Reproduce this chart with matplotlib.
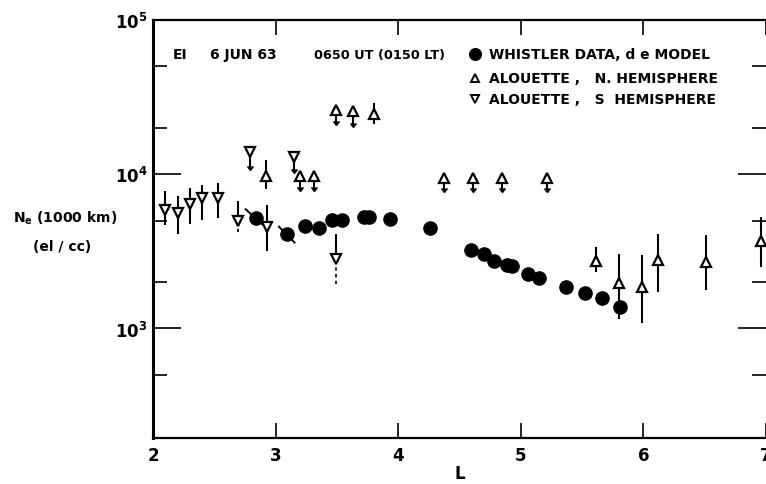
import numpy as np
import matplotlib
matplotlib.use('Agg')
import matplotlib.pyplot as plt
from matplotlib.ticker import LogLocator, NullFormatter, FixedLocator

plt.rcParams['font.family'] = ['DejaVu Sans']

# Whistler data, d e model (filled circles)
whistler_L = [2.84, 3.09, 3.24, 3.35, 3.46, 3.54, 3.72, 3.76, 3.93, 4.26,
              4.59, 4.70, 4.78, 4.89, 4.93, 5.06, 5.15, 5.37, 5.52, 5.66, 5.81]
whistler_ne = [5180, 4090, 4590, 4460, 5020, 5020, 5260, 5260, 5100, 4460,
               3210, 3020, 2720, 2570, 2530, 2250, 2110, 1850, 1690, 1570, 1370]
# short slope strokes drawn through the first two whistler points
slope_L = [(2.756, 2.894), (3.027, 3.154)]
slope_ne = [(5930, 4730), (4570, 3610)]

# Alouette, N. hemisphere, with error bars
alN_L = [2.92, 3.80, 5.61, 5.805, 5.99, 6.12, 6.507, 6.96]
alN_ne = [9700, 24600, 2750, 1970, 1870, 2790, 2690, 3670]
alN_hi = [12400, 28900, 3400, 3040, 3010, 4090, 4060, 5260]
alN_lo = [8030, 21200, 2310, 1150, 1080, 1730, 1780, 2490]

# Alouette, N. hemisphere, upper limits (arrow down)
alN_lim_L = [3.20, 3.31, 3.49, 3.63, 4.37, 4.61, 4.85, 5.21]
alN_lim_ne = [9700, 9700, 26200, 25600, 9460, 9460, 9460, 9460]
alN_lim_end = [7760, 7760, 20900, 20300, 7700, 7700, 7700, 7700]

# Alouette, S hemisphere, with error bars
alS_L = [2.095, 2.20, 2.30, 2.40, 2.53, 2.694, 2.93, 3.49]
alS_ne = [5900, 5610, 6410, 6980, 6980, 5000, 4530, 2820]
alS_hi = [7760, 7200, 8150, 8490, 8740, 6750, 6320, 4090]
alS_lo = [4670, 4080, 4730, 5020, 5180, 4200, 3200, 1940]
alS_dotted_below = [False, False, False, False, False, True, False, True]

# Alouette, S hemisphere, upper limits
alS_lim_L = [2.794, 3.149]
alS_lim_ne = [13900, 12900]
alS_lim_end = [10600, 10150]

W, H = 766, 485
fig = plt.figure(figsize=(W / 100, H / 100), dpi=100)
ax = fig.add_axes([153 / W, 1 - 439 / H, (766 - 153) / W, (439 - 21) / H])
ax.set_yscale('log')
ax.set_xlim(2, 7)
ax.set_ylim(195, 1e5)

k = 'black'
ms_tri = 6.5

# error bars
for L, hi, lo in zip(alN_L, alN_hi, alN_lo):
    ax.vlines(L, lo, hi, color=k, lw=1.5, zorder=2)
for L, y, hi, lo, dot in zip(alS_L, alS_ne, alS_hi, alS_lo, alS_dotted_below):
    if dot:
        ax.vlines(L, y, hi, color=k, lw=1.5, zorder=2)
        ax.vlines(L, lo, y, color=k, lw=1.2, linestyles=(0, (2, 2)), zorder=2)
    else:
        ax.vlines(L, lo, hi, color=k, lw=1.5, zorder=2)

# upper-limit arrows
for Ls, ys, ends in [(alN_lim_L, alN_lim_ne, alN_lim_end),
                     (alS_lim_L, alS_lim_ne, alS_lim_end)]:
    ax.vlines(Ls, ys, ends, color=k, lw=1.5, zorder=2)
    ax.plot(Ls, ends, ls='none', marker=7, ms=4, color=k, zorder=2)

# slope strokes
for (x0, x1), (y0, y1) in zip(slope_L, slope_ne):
    ax.plot([x0, x1], [y0, y1], color=k, lw=1.4, zorder=2)

ax.plot(whistler_L, whistler_ne, ls='none', marker='o', ms=9.5, color=k, zorder=4)
ax.plot(alN_L + alN_lim_L, alN_ne + alN_lim_ne, ls='none', marker='^', ms=ms_tri,
        mfc='white', mec=k, mew=1.6, zorder=3)
ax.plot(alS_L + alS_lim_L, alS_ne + alS_lim_ne, ls='none', marker='v', ms=ms_tri,
        mfc='white', mec=k, mew=1.6, zorder=3)

# axes styling
for s in ['left', 'bottom', 'top']:
    ax.spines[s].set_linewidth(1.6)
ax.spines['left'].set_linewidth(2.2)
ax.spines['right'].set_visible(False)

ax.xaxis.set_major_locator(FixedLocator([2, 3, 4, 5, 6, 7]))
ax.yaxis.set_major_locator(LogLocator(base=10, numticks=10))
ax.yaxis.set_minor_locator(FixedLocator([500, 2000, 5000, 20000, 50000]))
ax.yaxis.set_minor_formatter(NullFormatter())
ax.tick_params(axis='x', which='major', direction='in', length=11, width=1.2,
               top=True, labelsize=12, pad=6)
ax.tick_params(axis='y', which='major', direction='in', length=20, width=1.2,
               right=True, labelsize=12, pad=4)
ax.tick_params(axis='y', which='minor', direction='in', length=10, width=1.2,
               right=True)
for lab in ax.get_xticklabels() + ax.get_yticklabels():
    lab.set_fontweight('bold')

ax.set_xlabel('L', fontsize=12, fontweight='bold', labelpad=0)

# y axis label
fig.text(13 / W, 1 - 218 / H, r'N$_\mathregular{e}$ (1000 km)', fontsize=10,
         fontweight='bold', va='center', ha='left')
fig.text(33 / W, 1 - 247 / H, '(el / cc)', fontsize=10, fontweight='bold',
         va='center', ha='left')

# header and legend
fs = 10
fw = 'bold'
fig.text(173 / W, 1 - 55 / H, 'EI', fontsize=fs, fontweight=fw, va='center')
fig.text(210 / W, 1 - 55 / H, '6 JUN 63', fontsize=fs, fontweight=fw, va='center')
fig.text(314 / W, 1 - 55 / H, '0650 UT (0150 LT)', fontsize=9.3, fontweight=fw,
         va='center')
leg_rows = [('o', 'k', 'WHISTLER DATA, d e MODEL', 55),
            ('^', 'white', 'ALOUETTE ,   N. HEMISPHERE', 79),
            ('v', 'white', 'ALOUETTE ,   S  HEMISPHERE', 100)]
for m, fc, txt, yp in leg_rows:
    ax.plot([475 / W], [1 - yp / H], marker=m, ms=8 if m == 'o' else 5.5,
            mfc=fc, mec=k, mew=1.4, transform=fig.transFigure, clip_on=False)
    fig.text(489 / W, 1 - yp / H, txt, fontsize=fs, fontweight=fw, va='center')

fig.savefig('out.png', dpi=100)
